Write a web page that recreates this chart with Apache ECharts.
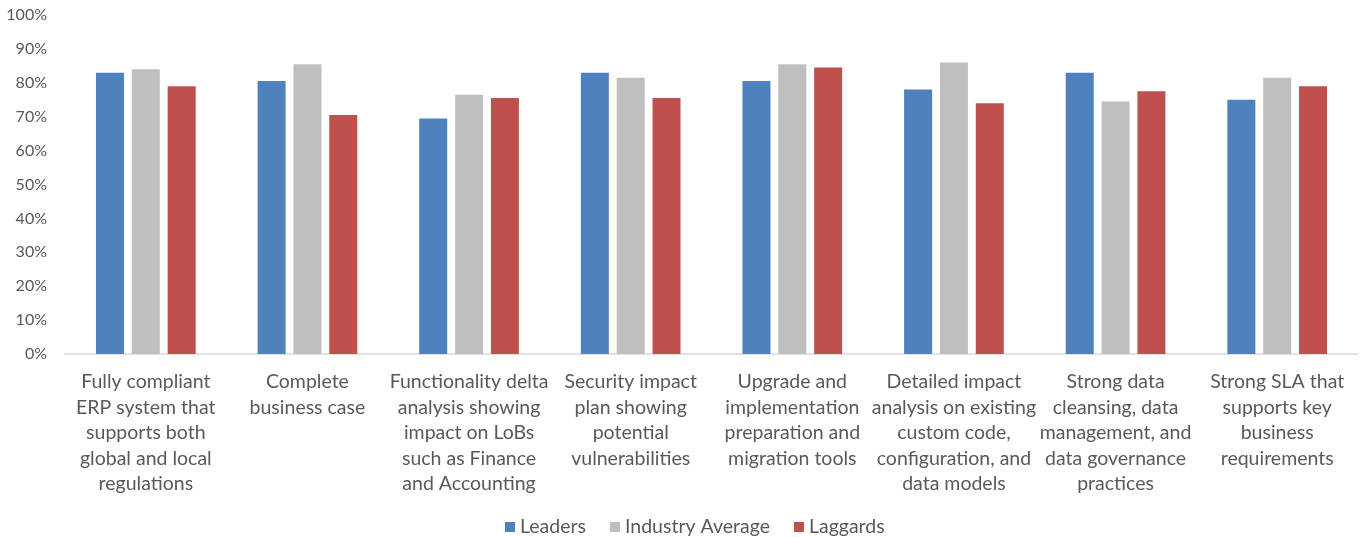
<!DOCTYPE html>
<html>
<head>
<meta charset="utf-8">
<script src="https://cdn.jsdelivr.net/npm/echarts@6/dist/echarts.min.js"></script>
<style>html,body{margin:0;padding:0;background:#fff}#c{width:1360px;height:537px}</style>
</head>
<body>
<div id="c"></div>
<script>
const categories = [
  "Fully compliant\nERP system that\nsupports both\nglobal and local\nregulations",
  "Complete\nbusiness case",
  "Functionality delta\nanalysis showing\nimpact on LoBs\nsuch as Finance\nand Accounting",
  "Security impact\nplan showing\npotential\nvulnerabilities",
  "Upgrade and\nimplementation\npreparation and\nmigration tools",
  "Detailed impact\nanalysis on existing\ncustom code,\nconfiguration, and\ndata models",
  "Strong data\ncleansing, data\nmanagement, and\ndata governance\npractices",
  "Strong SLA that\nsupports key\nbusiness\nrequirements"
];
const seriesNames = ["Leaders", "Industry Average", "Laggards"];
const leaders  = [83, 80.5, 69.5, 83, 80.5, 78, 83, 75];
const industry = [84, 85.5, 76.5, 81.5, 85.5, 86, 74.5, 81.5];
const laggards = [79, 70.5, 75.5, 75.5, 84.5, 74, 77.5, 79];
const colors = ["#4F81BD", "#BFBFBF", "#C0504D"];

const font = "Lato, 'Liberation Sans', sans-serif";
const chart = echarts.init(document.getElementById('c'));
const mk = (name, data, color) => ({
  name, type: 'bar', data, barWidth: 28, barGap: '28%',
  itemStyle: { color }, emphasis: { disabled: true }
});
chart.setOption({
  animation: false,
  textStyle: { fontFamily: font },
  grid: { left: 65, right: 2, top: 15, bottom: 183, containLabel: false },
  legend: {
    bottom: -5, left: 500, itemWidth: 10, itemHeight: 10, itemGap: 24,
    icon: 'rect',
    textStyle: { color: '#595959', fontSize: 19.5, fontFamily: font },
    data: seriesNames
  },
  xAxis: {
    type: 'category', data: categories,
    axisLine: { lineStyle: { color: '#D9D9D9', width: 1.5 } },
    axisTick: { show: false },
    axisLabel: { interval: 0, color: '#595959', fontSize: 19.5, lineHeight: 25.5, margin: 15, fontFamily: font }
  },
  yAxis: {
    type: 'value', min: 0, max: 100, interval: 10,
    axisLine: { show: false }, axisTick: { show: false },
    splitLine: { show: false },
    axisLabel: { formatter: '{value}%', color: '#595959', fontSize: 16, margin: 18, fontFamily: font }
  },
  series: [
    mk(seriesNames[0], leaders, colors[0]),
    mk(seriesNames[1], industry, colors[1]),
    mk(seriesNames[2], laggards, colors[2])
  ]
});
</script>
</body>
</html>
